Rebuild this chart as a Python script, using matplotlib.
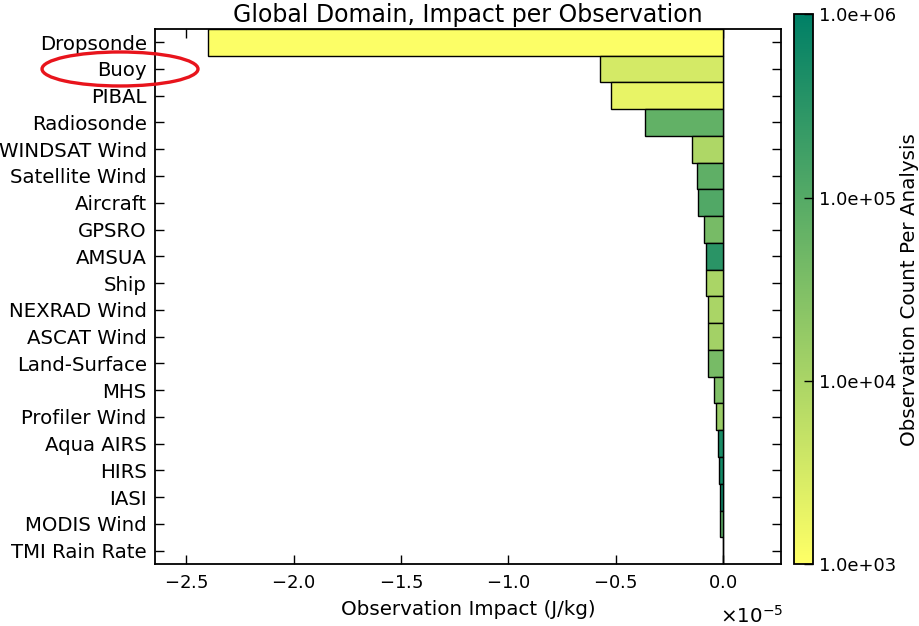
import numpy as np
import matplotlib
matplotlib.use('Agg')
import matplotlib.pyplot as plt
from matplotlib.colors import LogNorm
from matplotlib.cm import ScalarMappable
from matplotlib.patches import Ellipse

plt.rcParams['axes.formatter.use_mathtext'] = True
plt.rcParams['font.family'] = 'DejaVu Sans'

# observation types, largest (most negative) impact first
obs_types = ['Dropsonde', 'Buoy', 'PIBAL', 'Radiosonde', 'WINDSAT Wind',
             'Satellite Wind', 'Aircraft', 'GPSRO', 'AMSUA', 'Ship',
             'NEXRAD Wind', 'ASCAT Wind', 'Land-Surface', 'MHS', 'Profiler Wind',
             'Aqua AIRS', 'HIRS', 'IASI', 'MODIS Wind', 'TMI Rain Rate']

# impact per observation, J/kg
impact = np.array([-2.40, -0.572, -0.519, -0.365, -0.142,
                   -0.121, -0.115, -0.089, -0.081, -0.079,
                   -0.068, -0.068, -0.069, -0.040, -0.034,
                   -0.022, -0.016, -0.015, -0.012, -0.001]) * 1e-5

# observation count per analysis
obs_count = np.array([1.1e3, 3.2e3, 1.9e3, 7.0e4, 9.0e3,
                      7.5e4, 1.1e5, 4.0e4, 3.2e5, 1.0e4,
                      1.0e4, 1.2e4, 4.0e4, 3.2e4, 1.6e4,
                      5.0e5, 6.0e5, 7.0e5, 8.0e4, 3.0e4])

cbar_ticks = [1e3, 1e4, 1e5, 1e6]

norm = LogNorm(vmin=1e3, vmax=1e6)
cmap = plt.get_cmap('summer_r')

fig = plt.figure(figsize=(9.19, 6.26), dpi=100)
ax = fig.add_axes([0.1687, 0.099, 0.681, 0.855])
cax = fig.add_axes([0.8643, 0.099, 0.0207, 0.878])

ypos = np.arange(len(obs_types))
ax.barh(ypos, impact, height=1.0, color=cmap(norm(obs_count)),
        edgecolor='black', linewidth=1.0, zorder=2)
ax.axvline(0, color='black', linewidth=1.0, zorder=1)

ax.set_yticks(ypos)
ax.set_yticklabels(obs_types, fontsize=14.2)
ax.set_ylim(len(obs_types) - 0.5, -0.5)
ax.set_xlim(-2.645e-5, 0.27e-5)
ax.set_xticks(np.arange(-2.5, 0.01, 0.5) * 1e-5)

ax.set_title('Global Domain, Impact per Observation', fontsize=17, pad=5)
ax.set_xlabel('Observation Impact (J/kg)', fontsize=14.3, labelpad=6)

ax.tick_params(axis='both', which='major', direction='in', length=6.5,
               width=1.0, top=True, right=True, pad=7)
ax.tick_params(axis='x', labelsize=13)
ax.tick_params(axis='y', pad=6)

# scale factor drawn under the right end of the x axis
ax.xaxis.get_offset_text().set_visible(False)
ax.text(0.902, -0.096, r'$\times\mathdefault{10^{-5}}$', transform=ax.transAxes,
        ha='left', va='center', fontsize=14.3)

for sp in ax.spines.values():
    sp.set_linewidth(1.3)

sm = ScalarMappable(norm=norm, cmap=cmap)
cb = fig.colorbar(sm, cax=cax, ticks=cbar_ticks, format='%.1e')
cb.ax.minorticks_off()
cb.ax.tick_params(direction='in', length=6.5, width=1.0, labelsize=13, pad=4)
cb.outline.set_linewidth(1.3)
cb.set_label('Observation Count Per Analysis', fontsize=14.3, labelpad=3)

# red ring highlighting the Buoy row label
fig.add_artist(Ellipse((0.1306, 0.8898), 0.1697, 0.0543, transform=fig.transFigure,
                       fill=False, edgecolor='#e8141c', linewidth=2.4, zorder=10))

fig.savefig('out.png', dpi=100, facecolor='white')
